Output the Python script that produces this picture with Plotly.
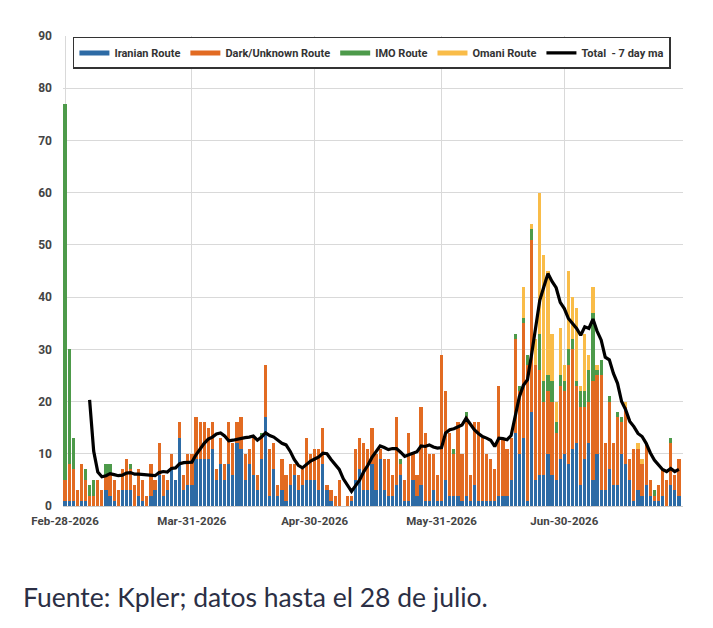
import pandas as pd
import plotly.graph_objects as go

# daily tanker transits, Feb-28-2026 .. Jul-28-2026
dates = pd.date_range("2026-02-28", "2026-07-28", freq="D")

iranian = [1, 1, 1, 0, 1, 1, 0, 0, 0, 0,
           3, 2, 1, 0, 3, 3, 3, 0, 2, 1,
           0, 2, 3, 6, 2, 3, 7, 5, 13, 3,
           4, 4, 9, 9, 9, 9, 11, 5, 8, 5,
           8, 6, 12, 11, 5, 8, 6, 3, 9, 17,
           2, 7, 2, 3, 1, 4, 6, 3, 4, 5,
           5, 5, 3, 8, 3, 1, 0, 0, 0, 0,
           1, 5, 7, 3, 3, 8, 3, 9, 3, 2,
           2, 4, 6, 1, 1, 5, 2, 4, 1, 1,
           3, 1, 1, 5, 2, 2, 2, 1, 2, 1,
           4, 1, 1, 1, 1, 1, 2, 2, 2, 5,
           14, 10, 13, 1, 18, 5, 6, 6, 10, 6,
           5, 9, 10, 8, 11, 12, 4, 9, 12, 5,
           10, 3, 3, 7, 4, 4, 10, 8, 5, 1,
           3, 2, 4, 2, 1, 1, 2, 0, 4, 3,
           2]

dark = [4, 7, 6, 3, 7, 4, 2, 2, 5, 3,
        3, 4, 4, 3, 4, 6, 4, 4, 5, 4,
        2, 6, 2, 6, 4, 2, 3, 0, 3, 3,
        6, 6, 8, 7, 7, 6, 5, 2, 5, 3,
        8, 6, 4, 6, 5, 3, 7, 3, 4, 10,
        9, 5, 2, 6, 5, 4, 2, 3, 3, 8,
        5, 6, 8, 7, 1, 2, 2, 5, 0, 2,
        1, 6, 6, 9, 8, 7, 7, 2, 6, 7,
        4, 13, 2, 4, 13, 5, 4, 15, 13, 9,
        7, 5, 28, 17, 12, 8, 14, 9, 15, 5,
        12, 15, 12, 9, 8, 6, 21, 11, 9, 8,
        18, 12, 22, 26, 33, 22, 20, 14, 12, 14,
        9, 14, 12, 19, 19, 11, 15, 10, 8, 19,
        15, 22, 9, 13, 8, 13, 6, 11, 4, 10,
        8, 6, 8, 3, 1, 3, 5, 5, 8, 3,
        7]

imo = [72, 22, 6, 0, 0, 2, 2, 3, 0, 0,
       2, 2, 0, 0, 0, 0, 1, 0, 0, 0,
       0, 0, 0, 0, 0, 0, 0, 0, 0, 0,
       0, 0, 0, 0, 0, 0, 0, 0, 0, 0,
       0, 0, 0, 0, 0, 0, 0, 0, 1, 0,
       0, 0, 0, 0, 0, 0, 0, 0, 0, 0,
       0, 0, 0, 0, 0, 0, 0, 0, 0, 0,
       0, 0, 0, 0, 0, 0, 0, 0, 0, 0,
       0, 0, 1, 0, 0, 0, 0, 0, 0, 0,
       0, 0, 0, 0, 0, 1, 0, 0, 1, 0,
       0, 0, 0, 0, 0, 0, 0, 0, 0, 0,
       1, 1, 1, 2, 2, 0, 7, 4, 3, 4,
       2, 2, 2, 3, 2, 1, 3, 3, 6, 13,
       1, 3, 0, 1, 0, 1, 1, 0, 0, 0,
       0, 0, 0, 0, 1, 0, 0, 0, 1, 0,
       0]

omani = [0] * 112 + [6, 0, 1, 5, 27, 24, 20, 9,
                     4, 9, 3, 15, 8, 14, 1, 11, 3, 5,
                     1, 0, 0, 0, 0, 0, 0, 1, 0, 0,
                     1, 1, 0, 0, 0, 0, 0, 0, 0, 0,
                     0]

# 7 day moving average as drawn (starts on the 7th day)
total_ma = [None, None, None, None, None, None, 20.3, 10.5, 6.5, 5.6,
            5.8, 6.2, 6.0, 5.8, 5.9, 6.3, 6.4, 6.1, 6.1, 6.0,
            6.0, 5.9, 5.8, 6.4, 6.6, 6.5, 7.2, 7.3, 8.1, 8.3,
            8.4, 8.4, 9.8, 11.0, 12.0, 12.8, 13.2, 13.8, 14.0, 13.4,
            12.5, 12.6, 12.8, 13.0, 13.1, 13.2, 13.4, 12.6, 13.2, 14.0,
            13.5, 13.2, 12.5, 12.0, 11.7, 10.5, 8.9, 7.8, 7.3, 8.0,
            8.6, 9.0, 9.4, 10.1, 10.0, 8.9, 8.0, 7.0, 5.2, 4.0,
            2.8, 3.9, 5.0, 6.6, 7.8, 9.3, 10.5, 11.5, 11.2, 10.8,
            11.0, 11.0, 10.3, 9.5, 9.8, 10.1, 10.4, 11.5, 11.4, 11.7,
            11.3, 11.1, 11.2, 14.0, 14.6, 14.8, 15.1, 15.5, 16.8, 15.6,
            14.6, 13.9, 13.3, 13.0, 12.6, 11.4, 13.0, 12.9, 12.7, 13.5,
            17.0, 20.9, 23.1, 24.2, 29.0, 34.0, 39.4, 42.0, 44.5, 43.0,
            41.8, 39.0, 37.8, 35.9, 34.9, 34.0, 32.7, 34.3, 34.0, 35.8,
            33.5, 31.8, 28.5, 28.0, 25.4, 23.5, 20.0, 18.4, 16.2, 15.2,
            13.9, 13.3, 12.0, 10.2, 8.8, 7.9, 7.0, 6.6, 7.2, 6.6,
            7.0]

tick_dates = ["2026-02-28", "2026-03-31", "2026-04-30", "2026-05-31", "2026-06-30"]
tick_labels = ["Feb-28-2026", "Mar-31-2026", "Apr-30-2026", "May-31-2026", "Jun-30-2026"]

series = [("Iranian Route", iranian, "#2D6BA5"),
          ("Dark/Unknown Route", dark, "#E26B22"),
          ("IMO Route", imo, "#4D9A4A"),
          ("Omani Route", omani, "#F9BC48")]

fig = go.Figure()
for name, vals, col in series:
    fig.add_trace(go.Bar(x=dates, y=vals, name=name, marker=dict(color=col, line=dict(width=0)),
                         showlegend=False))
# legend entries drawn as thick lines like the original sheet chart
for name, vals, col in series:
    fig.add_trace(go.Scatter(x=[None], y=[None], mode="lines", name=name,
                             line=dict(color=col, width=5)))
fig.add_trace(go.Scatter(x=dates, y=total_ma, mode="lines", name="Total  - 7 day ma",
                         line=dict(color="black", width=3.2)))

# the page body adds 8px around the figure, margins account for it
fig.update_layout(
    width=713, height=628,
    barmode="stack", bargap=0.22,
    paper_bgcolor="white", plot_bgcolor="white",
    margin=dict(l=55, r=38, t=28, b=130),
    font=dict(family="Roboto", size=11, color="#444"),
    legend=dict(orientation="h", x=0.016, y=0.998, xanchor="left", yanchor="top",
                bgcolor="white", bordercolor="#333", borderwidth=1.5,
                font=dict(family="Roboto", size=11, color="#333", weight="bold"),
                itemwidth=30, tracegroupgap=0, traceorder="normal"),
    annotations=[dict(text="Fuente: Kpler; datos hasta el 28 de julio.",
                      xref="paper", yref="paper", x=-0.068, y=-0.194,
                      xanchor="left", yanchor="middle", showarrow=False,
                      font=dict(family="Lato", size=26.5, color="#2b2f45"))],
)
fig.update_xaxes(type="date", range=["2026-02-27 12:00", "2026-07-29 00:00"],
                 tickvals=tick_dates, ticktext=tick_labels,
                 showgrid=True, gridcolor="#d9d9d9", gridwidth=1,
                 showline=True, linecolor="#cccccc", ticklabelstandoff=4,
                 tickfont=dict(family="Roboto", size=11.5, color="#444", weight="bold"))
fig.update_yaxes(range=[0, 90], dtick=10, showgrid=True, gridcolor="#d9d9d9",
                 zeroline=False, ticklabelstandoff=10,
                 tickfont=dict(family="Roboto", size=12, color="#444", weight="bold"))

fig.write_html("out.html")
